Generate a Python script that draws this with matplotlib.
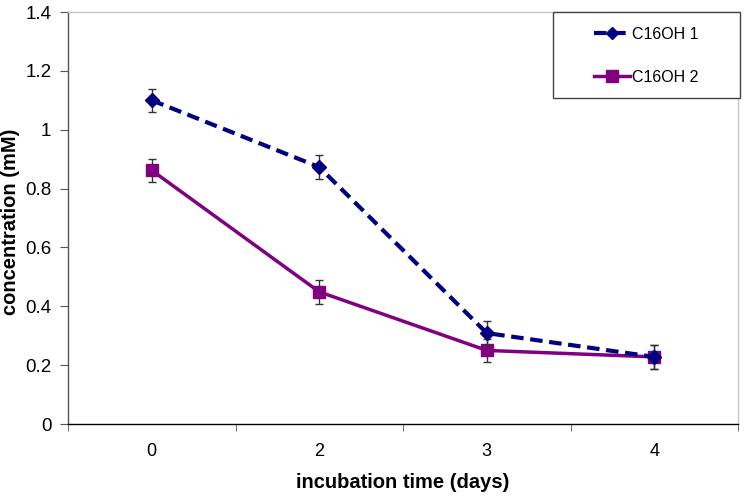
import matplotlib
matplotlib.use("Agg")
import matplotlib.pyplot as plt
from matplotlib.lines import Line2D
from matplotlib.patches import Rectangle
import numpy as np

plt.rcParams['font.family'] = ['Liberation Sans', 'DejaVu Sans']

categories = ["0", "2", "3", "4"]
series1 = [1.10, 0.873, 0.309, 0.228]
series1_err = [0.04, 0.04, 0.04, 0.04]
series2 = [0.862, 0.449, 0.250, 0.228]
series2_err = [0.04, 0.04, 0.04, 0.04]
labels = ["C16OH 1", "C16OH 2"]
yticks = [0, 0.2, 0.4, 0.6, 0.8, 1, 1.2, 1.4]
ytick_labels = ["0", "0.2", "0.4", "0.6", "0.8", "1", "1.2", "1.4"]

c1 = '#000080'
c2 = '#800080'
dash = (0, (3, 1.6))

fig = plt.figure(figsize=(7.5, 4.98), dpi=100)
ax = fig.add_axes([68/750, 1-424/498, 670/750, 412/498])

x = np.arange(len(categories))
ax.errorbar(x, series1, yerr=series1_err, color=c1, linestyle=dash,
            linewidth=3, marker='D', markersize=7, ecolor='#333333', elinewidth=1,
            capsize=3, capthick=1, zorder=3)
ax.errorbar(x, series2, yerr=series2_err, color=c2, linestyle='-',
            linewidth=2.5, marker='s', markersize=9, ecolor='#333333', elinewidth=1,
            capsize=3, capthick=1, zorder=2)

ax.set_xlim(-0.5, len(categories) - 0.5)
ax.set_ylim(0, 1.4)
ax.set_xticks(x)
ax.set_xticklabels(categories, fontsize=13)
ax.set_xticks(np.arange(-0.5, len(categories), 1), minor=True)
ax.tick_params(axis='x', which='major', length=0, pad=14)
ax.tick_params(axis='x', which='minor', length=5, color='#555555', direction='out')
ax.set_yticks(yticks)
ax.set_yticklabels(ytick_labels, fontsize=13.5)
ax.tick_params(axis='y', length=6, color='#555555', direction='out', pad=6)

for s in ['top', 'right']:
    ax.spines[s].set_color('#c8c8c8')
    ax.spines[s].set_linewidth(1)
ax.spines['left'].set_color('#555555')
ax.spines['bottom'].set_color('#000000')
ax.spines['left'].set_linewidth(1)
ax.spines['bottom'].set_linewidth(1)

ax.set_xlabel('incubation time (days)', fontsize=14.5, fontweight='bold', labelpad=9)
fig.text(11/750, 1-222/498, 'concentration (mM)', rotation=90, ha='center', va='center',
         fontsize=14.5, fontweight='bold')

# legend frame box
fig.patches.append(Rectangle((553/750, 1-98/498), 187/750, 86/498, transform=fig.transFigure,
                             facecolor='white', edgecolor='#444444', linewidth=1, zorder=5))
handles = [Line2D([], [], color=c1, linestyle=dash, linewidth=3, marker='D', markersize=6),
           Line2D([], [], color=c2, linestyle='-', linewidth=2.5, marker='s', markersize=8)]
leg = fig.legend(handles=handles, labels=labels, loc='center',
                 bbox_to_anchor=(646/750, 1-56/498), bbox_transform=fig.transFigure,
                 fontsize=11.5, frameon=False, borderpad=0, labelspacing=1.75,
                 handlelength=2.3, handletextpad=0.1, borderaxespad=0)
leg.set_zorder(6)

fig.savefig('out.png', dpi=100)
